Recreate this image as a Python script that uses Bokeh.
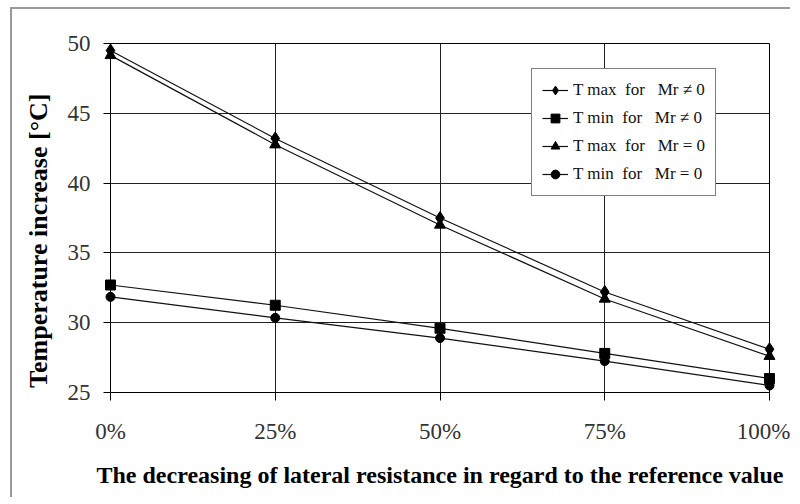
from bokeh.plotting import figure
from bokeh.models import FixedTicker, Legend, LegendItem, Range1d
from bokeh.embed import file_html
from bokeh.resources import INLINE

# ---- data ----
x_pct = [0, 25, 50, 75, 100]
x_labels = ["0%", "25%", "50%", "75%", "100%"]
tmax_mr_ne0 = [49.5, 43.2, 37.5, 32.2, 28.1]
tmin_mr_ne0 = [32.7, 31.25, 29.6, 27.8, 26.0]
tmax_mr_0 = [49.15, 42.75, 37.0, 31.7, 27.6]
tmin_mr_0 = [31.85, 30.35, 28.9, 27.25, 25.5]
y_ticks = [25, 30, 35, 40, 45, 50]
series_names = [
    "T max\u00a0\u00a0for\u00a0\u00a0\u00a0Mr \u2260 0",
    "T min\u00a0\u00a0for\u00a0\u00a0\u00a0Mr \u2260 0",
    "T max\u00a0\u00a0for\u00a0\u00a0\u00a0Mr = 0",
    "T min\u00a0\u00a0for\u00a0\u00a0\u00a0Mr = 0",
]

FONT = "Liberation Serif"

p = figure(
    width=780, height=490,
    x_range=Range1d(0, 100), y_range=Range1d(25, 50),
    output_backend="svg", toolbar_location=None,
    min_border_left=98, min_border_right=23,
    min_border_top=34, min_border_bottom=107,
)
p.margin = (7, 0, 0, 10)
p.styles = {"border-left": "2px solid #9a9a9a", "border-top": "2px solid #9a9a9a"}
p.background_fill_color = "white"
p.border_fill_color = "white"
p.outline_line_color = "black"
p.outline_line_width = 1

# axes
p.xaxis.ticker = FixedTicker(ticks=x_pct)
p.xaxis.major_label_overrides = dict(zip(x_pct, x_labels))
p.yaxis.ticker = FixedTicker(ticks=y_ticks)
p.xgrid.ticker = FixedTicker(ticks=x_pct)
p.ygrid.ticker = FixedTicker(ticks=y_ticks)
for g in (p.xgrid, p.ygrid):
    g.grid_line_color = "#222222"
    g.grid_line_width = 1
    g.grid_line_alpha = 1

for ax in (p.xaxis, p.yaxis):
    ax.axis_line_color = "black"
    ax.major_tick_line_color = "black"
    ax.major_tick_in = 0
    ax.minor_tick_line_color = None
    ax.major_label_text_font = FONT
    ax.major_label_text_font_size = "23px"
    ax.major_label_text_color = "#333333"
    ax.axis_label_text_font = FONT
    ax.axis_label_text_font_style = "bold"
    ax.axis_label_text_color = "black"

p.xaxis.axis_label_text_font_size = "24px"
p.yaxis.axis_label_text_font_size = "26px"
p.xaxis.major_tick_out = 8
p.yaxis.major_tick_out = 7
p.xaxis.major_label_standoff = 18
p.yaxis.major_label_standoff = 13
p.xaxis.axis_label = "The decreasing of lateral resistance in regard to the reference value"
# trailing no-break spaces shift the centred title slightly, as in the original
p.yaxis.axis_label = "Temperature increase [\u00b0C]" + "\u00a0" * 7
p.xaxis.axis_label_standoff = 15
p.yaxis.axis_label_standoff = 12

series = [
    (tmax_mr_ne0, "diamond", 13),
    (tmin_mr_ne0, "square", 10),
    (tmax_mr_0, "triangle", 11),
    (tmin_mr_0, "circle", 9),
]

items = []
for (ys, marker, size), name in zip(series, series_names):
    ln = p.line(x_pct, ys, line_color="#111111", line_width=1.2, level="overlay")
    sc = p.scatter(x_pct, ys, marker=marker, size=size, fill_color="black",
                   line_color="black", level="overlay")
    items.append(LegendItem(label=name, renderers=[ln, sc]))

legend = Legend(
    items=items, location=(421, 196), margin=0,
    padding=10, spacing=6, glyph_width=26, glyph_height=22, label_height=22,
    label_standoff=5, label_text_font=FONT, label_text_font_size="17px",
    label_text_color="#111111",
    border_line_color="black", border_line_width=1.5,
    background_fill_color="white", background_fill_alpha=1,
)
p.add_layout(legend, "center")

open("out.html", "w").write(file_html(p, INLINE))
